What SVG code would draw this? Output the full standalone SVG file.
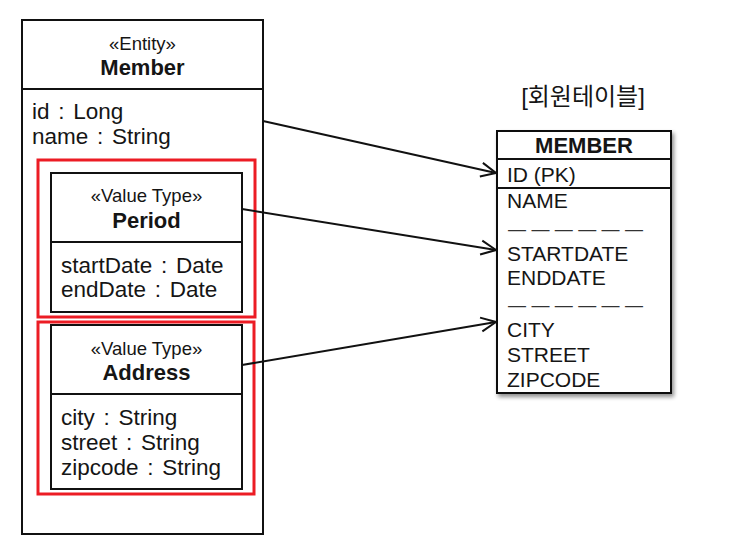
<svg xmlns="http://www.w3.org/2000/svg" width="744" height="555" viewBox="0 0 744 555">
<style>
  text { font-family: "Liberation Sans", "Noto Sans CJK KR", sans-serif; fill: #151515; }
  .box { fill: #fff; stroke: #111; stroke-width: 2; }
  .div { stroke: #111; stroke-width: 2; }
  .red { fill: none; stroke: #ec1c24; stroke-width: 3; }
  .attr { font-size: 22.5px; word-spacing: 2.5px; }
  .stereo { font-size: 18.5px; text-anchor: middle; }
  .name { font-size: 22px; font-weight: bold; text-anchor: middle; }
  .col { font-size: 21px; }
  .dash { font-size: 18px; fill: #333; }
  .conn { fill: none; stroke: #111; stroke-width: 2; marker-end: url(#arrow); }
</style>
<defs>
  <marker id="arrow" viewBox="0 0 20 20" refX="19" refY="10" markerWidth="20" markerHeight="20" markerUnits="userSpaceOnUse" orient="auto">
    <path d="M4,3 L19,10 L4,17" fill="none" stroke="#111" stroke-width="2"/>
  </marker>
  <filter id="shadow" x="-10%" y="-10%" width="130%" height="130%">
    <feGaussianBlur in="SourceAlpha" stdDeviation="2"/>
    <feOffset dx="2" dy="3" result="b"/>
    <feComponentTransfer><feFuncA type="linear" slope="0.45"/></feComponentTransfer>
    <feMerge><feMergeNode/><feMergeNode in="SourceGraphic"/></feMerge>
  </filter>
</defs>
<rect width="744" height="555" fill="#fff"/>

<g id="member-entity">
  <rect class="box" x="22" y="20" width="241" height="514"/>
  <line class="div" x1="22" y1="89" x2="263" y2="89"/>
  <text class="stereo" x="142.5" y="50">«Entity»</text>
  <text class="name" x="142.5" y="75">Member</text>
  <text class="attr" x="32" y="119">id : Long</text>
  <text class="attr" x="32" y="144">name : String</text>
</g>

<g id="period-highlight">
  <rect class="red" x="38" y="160" width="217" height="157"/>
</g>
<g id="period">
  <rect class="box" x="51" y="173" width="191" height="139"/>
  <line class="div" x1="51" y1="242" x2="242" y2="242"/>
  <text class="stereo" x="146.5" y="202">«Value Type»</text>
  <text class="name" x="146.5" y="228">Period</text>
  <text class="attr" x="61" y="273">startDate : Date</text>
  <text class="attr" x="61" y="297">endDate : Date</text>
</g>

<g id="address-highlight">
  <rect class="red" x="38" y="322" width="216" height="172"/>
</g>
<g id="address">
  <rect class="box" x="51" y="325" width="191" height="164"/>
  <line class="div" x1="51" y1="394" x2="242" y2="394"/>
  <text class="stereo" x="146.5" y="355">«Value Type»</text>
  <text class="name" x="146.5" y="380">Address</text>
  <text class="attr" x="61" y="425">city : String</text>
  <text class="attr" x="61" y="450">street : String</text>
  <text class="attr" x="61" y="475">zipcode : String</text>
</g>

<g id="member-table-title">
  <text x="583" y="105" font-size="24" text-anchor="middle">[회원테이블]</text>
</g>
<g id="member-table">
  <rect class="box" x="497" y="131" width="174" height="262" filter="url(#shadow)"/>
  <line class="div" x1="497" y1="159" x2="671" y2="159"/>
  <line class="div" x1="497" y1="188" x2="671" y2="188"/>
  <text class="name" x="584" y="153">MEMBER</text>
  <text class="col" x="507" y="182">ID (PK)</text>
  <text class="col" x="507" y="208">NAME</text>
  <text class="dash" x="508" y="235" textLength="135" lengthAdjust="spacing">— — — — — —</text>
  <text class="col" x="507" y="261">STARTDATE</text>
  <text class="col" x="507" y="285">ENDDATE</text>
  <text class="dash" x="508" y="311" textLength="135" lengthAdjust="spacing">— — — — — —</text>
  <text class="col" x="507" y="337">CITY</text>
  <text class="col" x="507" y="362">STREET</text>
  <text class="col" x="507" y="387">ZIPCODE</text>
</g>

<g id="connectors">
  <line class="conn" x1="263" y1="121" x2="496" y2="173"/>
  <line class="conn" x1="242" y1="209" x2="496" y2="250"/>
  <line class="conn" x1="242" y1="365" x2="496" y2="322"/>
</g>
</svg>
